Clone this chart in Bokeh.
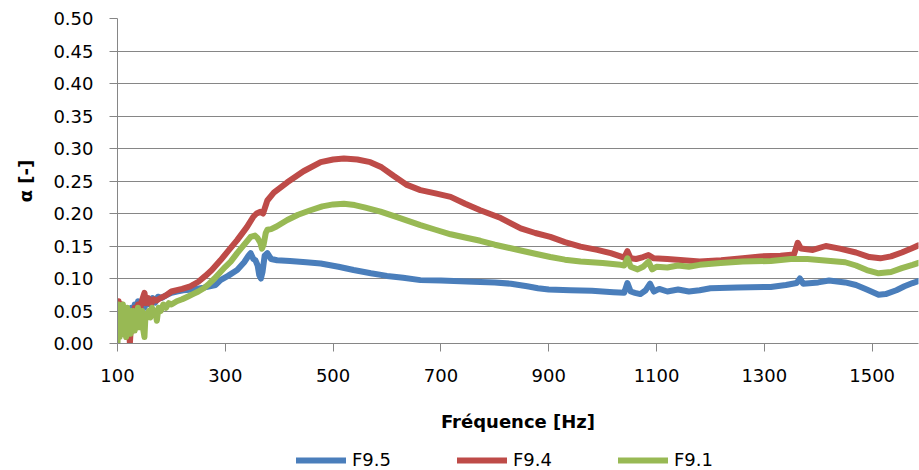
from bokeh.plotting import figure
from bokeh.layouts import column
from bokeh.models import FixedTicker, NumeralTickFormatter, Range1d, Legend, LegendItem
from bokeh.embed import file_html
from bokeh.resources import INLINE

# ---- data ----
f95_freq = [100, 102, 105, 108, 111, 114, 117, 120, 123, 126, 129, 132, 135, 138, 141, 145, 150, 155, 160, 165,
            170, 175, 182, 190, 200, 210, 222, 240, 260, 282, 291, 305, 322, 335, 343, 347, 352, 356, 360, 363,
            366, 369, 373, 378, 385, 396, 420, 450, 477, 510, 538, 570, 600, 630, 662, 700, 760, 800, 830, 860,
            880, 900, 940, 980, 1020, 1040, 1046, 1052, 1060, 1070, 1080, 1088, 1095, 1105, 1120, 1140, 1160, 1180,
            1200, 1250, 1312, 1340, 1360, 1366, 1372, 1400, 1420, 1450, 1470, 1490, 1512, 1525, 1545, 1560, 1575, 1586]
f95_vals = [0.02, 0.055, 0.015, 0.045, 0.02, 0.05, 0.015, 0.04, 0.025, 0.055, 0.035, 0.06, 0.045, 0.065, 0.05, 0.06,
            0.055, 0.068, 0.06, 0.07, 0.063, 0.072, 0.07, 0.074, 0.078, 0.08, 0.082, 0.083, 0.086, 0.09, 0.0975,
            0.104, 0.113, 0.125, 0.135, 0.139, 0.13, 0.128, 0.12, 0.105, 0.1, 0.11, 0.135, 0.139, 0.13, 0.128, 0.127,
            0.125, 0.123, 0.118, 0.113, 0.108, 0.104, 0.101, 0.0975, 0.097, 0.095, 0.094, 0.092, 0.088, 0.085, 0.083,
            0.082, 0.081, 0.079, 0.078, 0.093, 0.08, 0.078, 0.076, 0.082, 0.092, 0.08, 0.084, 0.08, 0.083, 0.08, 0.082,
            0.085, 0.086, 0.087, 0.09, 0.093, 0.1, 0.092, 0.094, 0.097, 0.094, 0.09, 0.083, 0.075, 0.076, 0.082,
            0.088, 0.093, 0.096]

f94_freq = [100, 102, 105, 108, 111, 114, 117, 120, 123, 126, 129, 132, 135, 138, 141, 145, 150, 153, 157, 162,
            167, 172, 180, 190, 200, 210, 220, 235, 250, 263, 275, 291, 305, 322, 340, 352, 358, 365, 370, 374,
            378, 390, 415, 445, 477, 500, 520, 545, 569, 590, 612, 637, 662, 690, 718, 745, 773, 811, 848, 875,
            903, 930, 959, 990, 1015, 1033, 1040, 1046, 1052, 1062, 1075, 1085, 1095, 1120, 1150, 1180, 1220, 1260,
            1293, 1330, 1355, 1362, 1368, 1390, 1414, 1440, 1470, 1495, 1515, 1535, 1555, 1575, 1586]
f94_vals = [0.03, 0.065, 0.02, 0.06, 0.015, 0.055, 0.01, 0.04, 0.0, 0.045, 0.02, 0.055, 0.04, 0.06, 0.05, 0.065,
            0.078, 0.062, 0.07, 0.06, 0.068, 0.066, 0.07, 0.074, 0.08, 0.082, 0.084, 0.088, 0.095, 0.104, 0.113,
            0.128, 0.142, 0.159, 0.179, 0.195, 0.2, 0.2025, 0.2, 0.21, 0.22, 0.232, 0.248, 0.265, 0.279, 0.283,
            0.2845, 0.283, 0.279, 0.271, 0.258, 0.244, 0.236, 0.231, 0.2256, 0.215, 0.205, 0.193, 0.177, 0.17, 0.164,
            0.156, 0.149, 0.144, 0.139, 0.134, 0.132, 0.142, 0.131, 0.13, 0.133, 0.136, 0.131, 0.13, 0.128, 0.126,
            0.128, 0.131, 0.134, 0.135, 0.137, 0.155, 0.146, 0.144, 0.15, 0.146, 0.14, 0.133, 0.131, 0.134, 0.14,
            0.147, 0.151]

f91_freq = [100, 102, 104, 106, 108, 110, 112, 114, 116, 118, 120, 122, 124, 126, 128, 130, 132, 134, 136, 138,
            140, 142, 144, 146, 148, 150, 152, 155, 158, 161, 164, 167, 170, 173, 176, 180, 185, 190, 195, 200,
            210, 220, 230, 240, 250, 260, 270, 280, 291, 300, 310, 322, 335, 347, 355, 360, 365, 368, 371, 375,
            378, 385, 395, 415, 435, 458, 480, 500, 520, 540, 560, 588, 620, 662, 690, 718, 745, 773, 800, 848,
            875, 903, 930, 959, 1000, 1033, 1040, 1046, 1052, 1065, 1075, 1085, 1092, 1100, 1120, 1140, 1160, 1180,
            1219, 1260, 1312, 1349, 1380, 1423, 1450, 1470, 1490, 1512, 1535, 1555, 1575, 1586]
f91_vals = [0.0, 0.06, 0.01, 0.055, 0.015, 0.06, 0.02, 0.05, 0.01, 0.055, 0.02, 0.045, 0.015, 0.05, 0.025, 0.05,
            0.02, 0.045, 0.03, 0.055, 0.025, 0.05, 0.035, 0.05, 0.02, 0.01, 0.045, 0.04, 0.05, 0.04, 0.055, 0.045,
            0.05, 0.035, 0.055, 0.05, 0.06, 0.055, 0.062, 0.06, 0.065, 0.068, 0.072, 0.076, 0.08, 0.085, 0.092, 0.1,
            0.11, 0.118, 0.126, 0.139, 0.152, 0.164, 0.166, 0.162, 0.155, 0.146, 0.152, 0.17, 0.175, 0.176, 0.18,
            0.19, 0.198, 0.205, 0.211, 0.214, 0.215, 0.213, 0.209, 0.203, 0.194, 0.182, 0.175, 0.168, 0.163, 0.158,
            0.152, 0.143, 0.138, 0.133, 0.129, 0.126, 0.124, 0.121, 0.12, 0.131, 0.118, 0.114, 0.118, 0.126, 0.114,
            0.118, 0.117, 0.12, 0.118, 0.121, 0.124, 0.126, 0.127, 0.13, 0.13, 0.127, 0.125, 0.12, 0.113, 0.108,
            0.11, 0.116, 0.121, 0.124]

series_names = ["F9.5", "F9.4", "F9.1"]
series_colors = ["#4A7EBB", "#BE4B48", "#98B954"]
x_ticks = [100, 300, 500, 700, 900, 1100, 1300, 1500]
y_ticks = [0.0, 0.05, 0.10, 0.15, 0.20, 0.25, 0.30, 0.35, 0.40, 0.45, 0.50]

FONT = "DejaVu Sans"
GRAY = "#868686"
series = [(f95_freq, f95_vals), (f94_freq, f94_vals), (f91_freq, f91_vals)]

p = figure(frame_width=801, frame_height=325, output_backend="svg", toolbar_location=None,
           x_range=Range1d(100, 1586), y_range=Range1d(0, 0.5),
           min_border_left=117, min_border_right=1, min_border_top=18, min_border_bottom=101)
p.outline_line_color = None
p.background_fill_color = "white"

p.xgrid.visible = False
p.ygrid.grid_line_color = GRAY
p.ygrid.grid_line_width = 1
p.ygrid.ticker = FixedTicker(ticks=y_ticks)

p.xaxis.ticker = FixedTicker(ticks=x_ticks)
p.yaxis.ticker = FixedTicker(ticks=y_ticks)
p.yaxis.formatter = NumeralTickFormatter(format="0.00")

for ax in (p.xaxis, p.yaxis):
    ax.axis_line_color = GRAY
    ax.major_tick_line_color = GRAY
    ax.major_tick_out = 8
    ax.major_tick_in = 0
    ax.minor_tick_line_color = None
    ax.major_label_text_font = FONT
    ax.major_label_text_font_size = "18px"
    ax.major_label_text_color = "#000000"
    ax.axis_label_text_font = FONT
    ax.axis_label_text_font_size = "18px"
    ax.axis_label_text_font_style = "bold"
    ax.axis_label_text_color = "#000000"

p.xaxis.axis_label = "Fréquence [Hz]"
p.yaxis.axis_label = "α [-]"
p.xaxis.major_label_standoff = 17
p.xaxis.axis_label_standoff = 26
p.yaxis.major_label_standoff = 16
p.yaxis.axis_label_standoff = 14

for (fr, vals), color in zip(series, series_colors):
    p.line(fr, vals, line_color=color, line_width=6, line_join="round", line_cap="round")

# legend strip below the chart (its frame is aligned with the chart frame by the column layout)
lg = figure(width=919, height=26, output_backend="svg", toolbar_location=None,
            x_axis_type=None, y_axis_type=None, x_range=Range1d(0, 1), y_range=Range1d(0, 1),
            min_border_left=0, min_border_right=0, min_border_top=0, min_border_bottom=0)
lg.outline_line_color = None
lg.xgrid.visible = False
lg.ygrid.visible = False
# same series drawn outside this strip's visible range, only to feed the legend glyphs
leg_renderers = [lg.line(fr, vals, line_color=c, line_width=6, line_cap="round")
                 for (fr, vals), c in zip(series, series_colors)]

legend = Legend(items=[LegendItem(label=n, renderers=[r]) for n, r in zip(series_names, leg_renderers)],
                orientation="horizontal", location=(179, 0),
                glyph_width=50, glyph_height=20, label_standoff=6, spacing=66,
                padding=0, margin=0, border_line_color=None, background_fill_alpha=0,
                label_text_font=FONT, label_text_font_size="18px", label_text_color="#000000")
lg.add_layout(legend, "center")

layout = column(p, lg, spacing=0)
open("out.html", "w").write(file_html(layout, INLINE))
